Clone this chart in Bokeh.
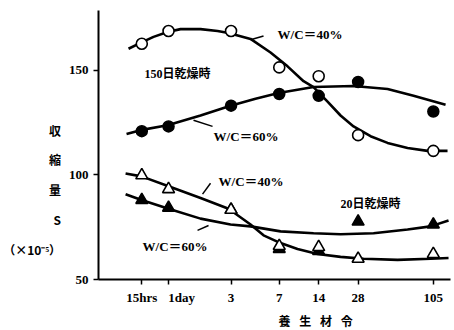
from bokeh.plotting import figure
from bokeh.models import Range1d, FixedTicker, Label, Title
from bokeh.embed import file_html
from bokeh.resources import INLINE

# ---- data ----
age_days = [0.625, 1, 3, 7, 14, 28, 105]
age_labels = ["15hrs", "\u2003\u20031day", "3", "7", "14", "28", "105"]
y_ticks = [50, 100, 150]

s150_wc40 = [162.7, 168.8, 168.8, 151.4, 147.2, 119.0, 111.5]
s150_wc60 = [120.9, 123.2, 133.1, 138.7, 137.8, 144.4, 130.3]
s20_wc40 = [99.8, 93.2, 83.3, 66.0, 65.5, 59.9, 62.2]
s20_wc60 = [88.0, 84.3, 83.3, 64.6, 63.6, 77.7, 76.3]

# hand-drawn trend curves
c150_wc40_x = [0.495, 0.611, 0.768, 0.983, 1.235, 1.755, 2.366, 2.871, 4.227, 6.005, 8.099,
               10.73, 12.79, 16.36, 20.56, 25.84, 34.83, 46.97, 66.74, 94.86, 134.8]
c150_wc40_y = [160.3, 163.1, 166.0, 168.3, 169.7, 169.7, 168.8, 167.8, 165.0, 158.5, 151.9,
               144.8, 142.0, 135.0, 128.4, 123.2, 118.5, 115.3, 112.9, 111.5, 111.5]
c150_wc60_x = [0.478, 0.611, 0.983, 1.755, 2.973, 4.615, 6.915, 12.79, 25.84, 46.97, 74.18, 130.2]
c150_wc60_y = [119.5, 121.4, 123.7, 128.4, 133.1, 136.4, 139.2, 142.0, 142.5, 141.1, 137.8, 133.6]
c20_wc40_x = [0.470, 0.622, 1.0, 1.755, 2.871, 4.227, 5.311, 7.161, 9.654, 13.72, 20.56,
              30.8, 56.0, 100.0, 137.2]
c20_wc40_y = [100.7, 99.3, 94.6, 89.0, 83.8, 76.3, 71.1, 67.4, 64.6, 62.2, 60.8,
              59.9, 59.4, 59.9, 60.3]
c20_wc60_x = [0.470, 0.622, 1.0, 1.755, 2.973, 4.227, 7.161, 12.79, 20.56, 36.73, 66.74, 100.0, 137.2]
c20_wc60_y = [90.8, 88.0, 83.8, 79.1, 76.3, 75.4, 73.0, 72.1, 71.6, 72.1, 73.9, 75.4, 78.2]

# annotation texts
txt_labels = ["W/C＝40%", "150日乾燥時", "W/C＝60%", "W/C＝40%", "W/C＝60%", "20日乾燥時"]
txt_x = [6.79, 0.656, 2.205, 2.408, 0.633, 20.56]
txt_y = [166.9, 148.1, 118.5, 96.9, 66.0, 86.2]
txt_size = ["13px", "12px", "13px", "13px", "13px", "12px"]

lead_x0 = [4.227, 1.551, 1.818, 1.665]
lead_x1 = [5.311, 2.167, 2.092, 2.020]
lead_y0 = [164.6, 126.1, 90.8, 73.5]
lead_y1 = [166.4, 123.2, 96.0, 75.8]

y_title = "\n\n\n収\n縮\n量\nS\n（×10⁻⁵）"
x_title = "養\u2002 生\u2002 材\u2002 令"

SERIF = "'Liberation Serif', 'Noto Sans CJK JP'"
CJK = "'Noto Sans CJK JP', 'Liberation Serif'"

p = figure(width=454, height=330, x_axis_type="log",
           x_range=Range1d(0.292, 142.0), y_range=Range1d(50, 178.6),
           output_backend="svg", toolbar_location=None,
           min_border_left=98, min_border_right=4, min_border_top=10, min_border_bottom=46)
p.outline_line_color = None
p.xgrid.visible = False
p.ygrid.visible = False
p.background_fill_color = "white"
p.border_fill_color = "white"

for ax in (p.xaxis[0], p.yaxis[0]):
    ax.axis_line_width = 2
    ax.axis_line_color = "black"
    ax.major_tick_line_width = 1.5
    ax.major_tick_out = 5
    ax.major_tick_in = 0
    ax.minor_tick_line_color = None
    ax.major_label_text_font = SERIF
    ax.major_label_text_font_size = "13px"
    ax.major_label_text_font_style = "bold"
    ax.major_label_text_color = "black"
    ax.major_label_standoff = 5

p.xaxis.ticker = FixedTicker(ticks=age_days, minor_ticks=[])
p.xaxis.major_label_overrides = dict(zip(age_days, age_labels))
p.yaxis.ticker = FixedTicker(ticks=y_ticks, minor_ticks=[])

p.yaxis.axis_label = y_title
p.yaxis.axis_label_orientation = "horizontal"
p.yaxis.axis_label_text_font = CJK
p.yaxis.axis_label_text_font_size = "12px"
p.yaxis.axis_label_text_font_style = "bold"
p.yaxis.axis_label_text_line_height = 1.75
p.yaxis.axis_label_text_color = "black"
p.yaxis.axis_label_standoff = 5

p.add_layout(Title(text=x_title, align="left", offset=180, standoff=4,
                   text_font=CJK, text_font_size="12px", text_font_style="bold",
                   text_color="black"), "below")

# curves
lw = 2.6
p.line(c150_wc40_x, c150_wc40_y, line_width=lw, color="black")
p.line(c150_wc60_x, c150_wc60_y, line_width=lw, color="black")
p.line(c20_wc40_x, c20_wc40_y, line_width=lw, color="black")
p.line(c20_wc60_x, c20_wc60_y, line_width=lw, color="black")

# leader lines
p.segment(lead_x0, lead_y0, lead_x1, lead_y1, line_width=1.5, color="black")

# markers
p.scatter(age_days, s150_wc60, marker="circle", size=11, fill_color="black", line_color="black", line_width=1.5)
p.scatter(age_days, s150_wc40, marker="circle", size=11, fill_color="white", line_color="black", line_width=1.6)
p.scatter(age_days, s20_wc60, marker="triangle", size=12, fill_color="black", line_color="black", line_width=1.5)
p.scatter(age_days, s20_wc40, marker="triangle", size=12, fill_color="white", line_color="black", line_width=1.6)

for t, x, y, s in zip(txt_labels, txt_x, txt_y, txt_size):
    p.add_layout(Label(x=x, y=y, text=t, text_font=SERIF, text_font_size=s,
                       text_font_style="bold", text_align="left", text_baseline="middle",
                       text_color="black"))

open("out.html", "w").write(file_html(p, INLINE))
